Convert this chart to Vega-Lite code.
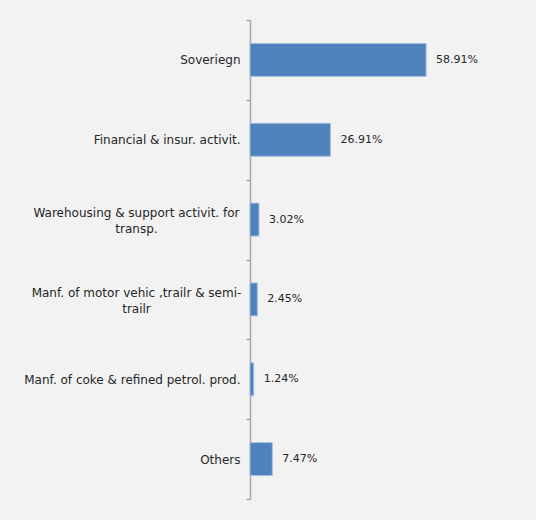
{
  "$schema": "https://vega.github.io/schema/vega-lite/v6.json",
  "width": 284,
  "height": 479,
  "autosize": {"type": "none"},
  "padding": {"left": 250, "top": 20, "right": 2, "bottom": 21},
  "background": "#f2f2f2",
  "config": {"view": {"stroke": null}, "font": "DejaVu Sans"},
  "data": {
    "values": [
      {"sector": "Sovereign", "share": 0.5891},
      {"sector": "Financial & insur. activit.", "share": 0.2691},
      {"sector": "Warehousing & support activit. for transp.", "share": 0.0302},
      {"sector": "Manf. of motor vehic ,trailr & semi-trailr", "share": 0.0245},
      {"sector": "Manf. of coke & refined petrol. prod.", "share": 0.0124},
      {"sector": "Others", "share": 0.0747}
    ]
  },
  "encoding": {
    "y": {
      "field": "sector",
      "type": "nominal",
      "sort": null,
      "scale": {"paddingInner": 0, "paddingOuter": 0},
      "axis": {
        "title": null,
        "domainColor": "#a6a6a6",
        "domainWidth": 1.5,
        "tickColor": "#a6a6a6",
        "tickSize": 4,
        "tickWidth": 1.5,
        "tickBand": "extent",
        "labelFontSize": 12,
        "labelColor": "#262626",
        "labelLimit": 400,
        "labelLineHeight": 16,
        "labelOffset": {"condition": {"test": "isString(datum.value) && (indexof(datum.value, 'Warehousing') >= 0 || indexof(datum.value, 'motor') >= 0)", "value": -7}, "value": 0},
        "labelAlign": {"condition": {"test": "isString(datum.value) && (indexof(datum.value, 'Warehousing') >= 0 || indexof(datum.value, 'motor') >= 0)", "value": "center"}, "value": "right"},
        "labelPadding": {"condition": {"test": "isString(datum.value) && (indexof(datum.value, 'Warehousing') >= 0 || indexof(datum.value, 'motor') >= 0)", "value": 110}, "value": 6},
        "labelExpr": "datum.value == 'Sovereign' ? 'Soveriegn' : datum.value == 'Warehousing & support activit. for transp.' ? ['Warehousing & support activit. for', 'transp.'] : datum.value == 'Manf. of motor vehic ,trailr & semi-trailr' ? ['Manf. of motor vehic ,trailr & semi-', 'trailr'] : datum.value"
      }
    },
    "x": {
      "field": "share",
      "type": "quantitative",
      "scale": {"domain": [0, 0.95]},
      "axis": null
    }
  },
  "layer": [
    {"mark": {"type": "bar", "size": 33, "color": "#4f81bd", "stroke": "#a9c0df", "strokeWidth": 1}},
    {
      "mark": {"type": "text", "align": "left", "dx": 10, "fontSize": 11, "color": "#262626"},
      "encoding": {"text": {"field": "share", "format": ".2%"}}
    }
  ]
}
